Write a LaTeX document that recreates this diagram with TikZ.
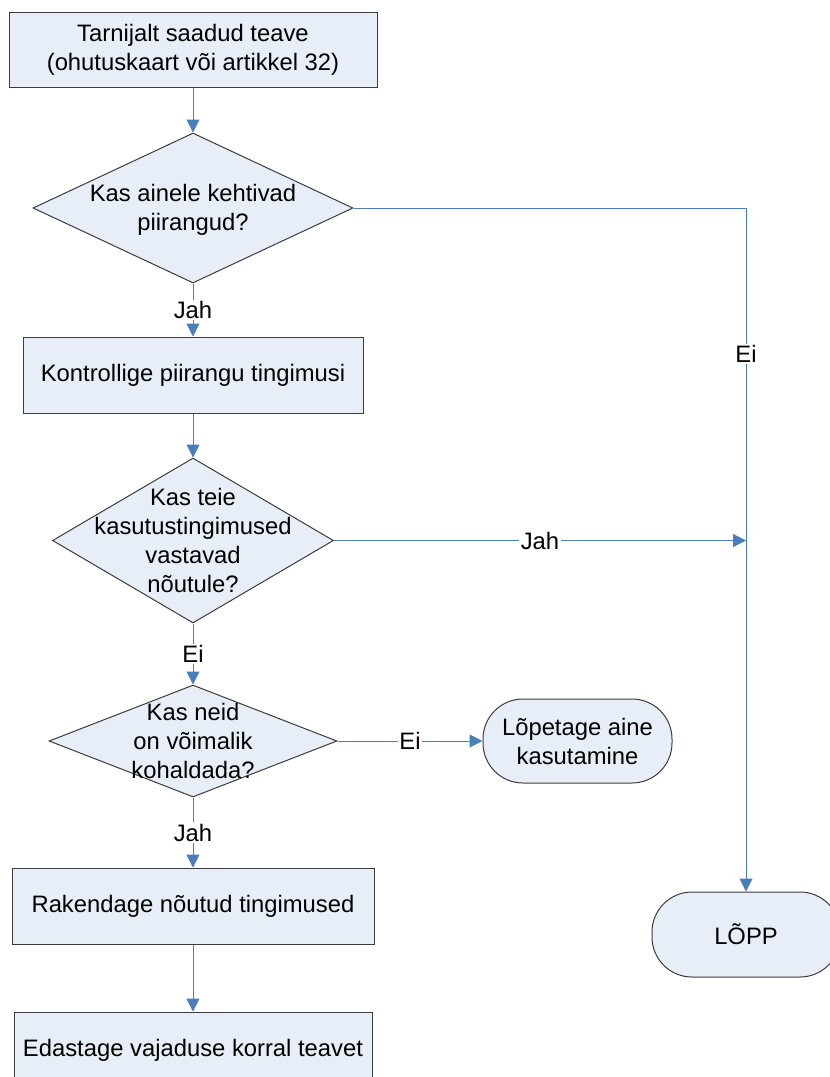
\documentclass[tikz,border=0pt]{standalone}
\usepackage{fontspec}
\setmainfont{Liberation Sans}
\usepackage{tikz}
\usetikzlibrary{positioning,shapes.geometric,arrows.meta}
\definecolor{boxfill}{HTML}{E8EEF7}
\definecolor{boxline}{HTML}{3C3C3C}
\definecolor{flowline}{HTML}{4A7EBB}
\newcommand{\bodyfont}{\fontsize{23.8pt}{29pt}\selectfont}
\newcommand{\dtext}[1]{\makebox[0pt]{\raisebox{-8.6pt}[0pt][0pt]{\begin{tabular}{@{}c@{}}#1\end{tabular}}}}

\begin{document}
\begin{tikzpicture} [x=1pt,y=-1pt,every node/.style={align=center,font=\bodyfont},
		procbox/.style={rectangle,draw=boxline,fill=boxfill,line width=1pt,minimum height=76pt},
		question/.style={diamond,draw=boxline,fill=boxfill,line width=1pt,inner sep=0pt},
		endbox/.style={rectangle,rounded corners=40pt,draw=boxline,fill=boxfill,line width=1pt,minimum height=85pt},
		flow/.style={draw=flowline,line width=1pt,-{Triangle[length=13pt,width=13pt]}},
		answer/.style={fill=white,inner sep=1.5pt}]
			\useasboundingbox (0,0) rectangle (830,1077);
			\node [procbox,minimum width=368pt,minimum height=75pt] (info) at (193,49.5) {Tarnijalt saadud teave\\(ohutuskaart või artikkel 32)};
			\node [question,minimum width=320pt,minimum height=150pt,below=45pt of info] (restrict) {\dtext{Kas ainele kehtivad\\piirangud?}};
			\node [procbox,minimum width=340pt,below=53pt of restrict] (check) {Kontrollige piirangu tingimusi};
			\node [question,minimum width=281pt,minimum height=165pt,below=44pt of check] (usecheck) {\dtext{Kas teie\\kasutustingimused\\vastavad\\nõutule?}};
			\node [question,minimum width=288pt,minimum height=112pt,below=61pt of usecheck] (apply) {\dtext{Kas neid\\on võimalik\\kohaldada?}};
			\node [endbox,minimum width=189pt,minimum height=84pt,right=145pt of apply] (stopuse) {Lõpetage aine\\kasutamine};
			\node [procbox,minimum width=362pt,below=70pt of apply] (implement) {Rakendage nõutud tingimused};
			\node [procbox,minimum width=358pt,below=67pt of implement] (forward) {Edastage vajaduse korral teavet};
			\node [endbox,minimum width=188pt] (finish) at (746,934.5) {LÕPP};
			\coordinate (meet) at (usecheck.east -| finish.north);

			\draw [flow] (info) -- (restrict);
			\draw [flow] (restrict) -- node [answer] {Jah} (check);
			\draw [flow] (restrict.east) -| node [answer,pos=0.607] {Ei} (finish.north);
			\draw [flow] (check) -- (usecheck);
			\draw [flow] (usecheck.east) -- node [answer] {Jah} (meet);
			\draw [flow] (usecheck) -- node [answer] {Ei} (apply);
			\draw [flow] (apply) -- node [answer] {Ei} (stopuse);
			\draw [flow] (apply) -- node [answer] {Jah} (implement);
			\draw [flow] (implement) -- (forward);
		\end{tikzpicture}
\end{document}
